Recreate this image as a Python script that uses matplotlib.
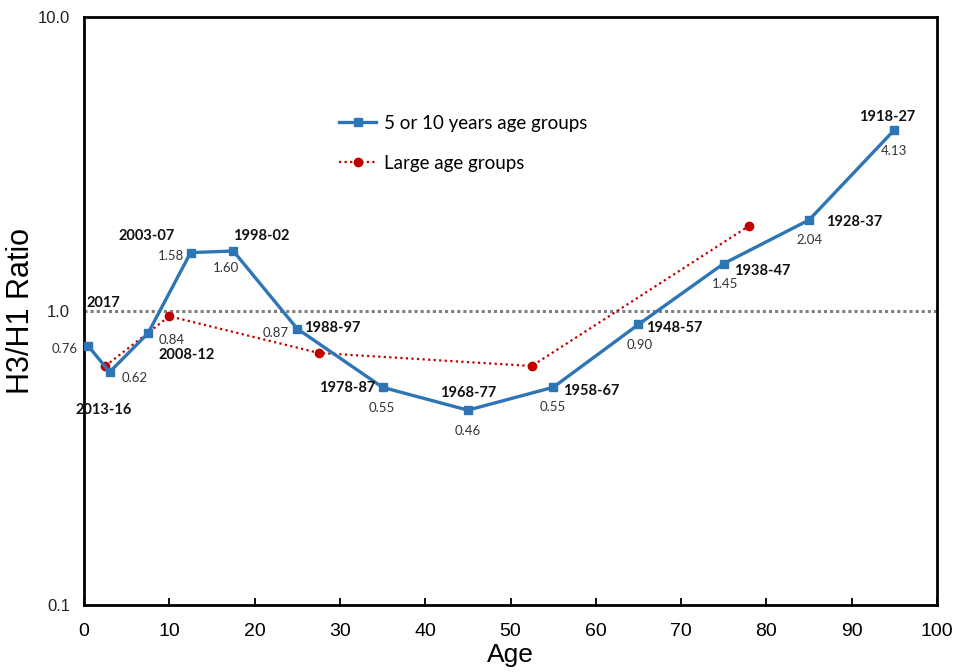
import numpy as np
import matplotlib
matplotlib.use('Agg')
import matplotlib.pyplot as plt

# 5 or 10 year age groups (birth cohorts)
ages = [0.5, 3, 7.5, 12.5, 17.5, 25, 35, 45, 55, 65, 75, 85, 95]
ratios = [0.76, 0.62, 0.84, 1.58, 1.60, 0.87, 0.55, 0.46, 0.55, 0.90, 1.45, 2.04, 4.13]
cohorts = ['2017', '2013-16', '2008-12', '2003-07', '1998-02', '1988-97', '1978-87',
           '1968-77', '1958-67', '1948-57', '1938-47', '1928-37', '1918-27']
ratio_txt = ['0.76', '0.62', '0.84', '1.58', '1.60', '0.87', '0.55',
             '0.46', '0.55', '0.90', '1.45', '2.04', '4.13']

# large age groups
large_ages = [2.5, 10, 27.5, 52.5, 78]
large_ratios = [0.65, 0.96, 0.72, 0.65, 1.95]

# label offsets in pixels (cohort label, value label)
cohort_off = [(15, 43), (-6, -38), (39, -22), (-44, 17), (28, 15), (35, 1), (-35, -1),
              (0, 17), (38, -4), (36, -4), (38, -7), (45, -2), (-7, 13)]
value_off = [(-24, -3), (25, -6), (24, -7), (-20, -3), (-7, -17), (-22, -4), (-1, -21),
             (0, -21), (0, -20), (1, -21), (1, -20), (0, -20), (0, -21)]

blue = '#2E75B6'
red = '#C00000'
lab_font = ['Lato', 'DejaVu Sans']
axis_font = ['Liberation Sans Narrow', 'Liberation Sans', 'DejaVu Sans']

fig = plt.figure(figsize=(9.57, 6.72), dpi=100)
ax = fig.add_axes([0.0878, 0.0997, 0.8913, 0.875])

ax.axhline(1.0, color='#7f7f7f', lw=2.2, ls=(0, (1, 1.0)), zorder=1)
ax.plot(ages, ratios, color=blue, lw=2.4, marker='s', ms=5.5,
        label='5 or 10 years age groups', zorder=3)
ax.plot(large_ages, large_ratios, color=red, lw=1.6, ls=(0, (1, 1.5)), marker='o', ms=6,
        label='Large age groups', zorder=2)

for i in range(len(ages)):
    ax.annotate(cohorts[i], (ages[i], ratios[i]), xytext=cohort_off[i],
                textcoords='offset pixels', ha='center', va='center',
                fontsize=10.5, fontweight='bold', family=lab_font, color='#111111')
    ax.annotate(ratio_txt[i], (ages[i], ratios[i]), xytext=value_off[i],
                textcoords='offset pixels', ha='center', va='center',
                fontsize=9.5, family=lab_font, color='#333333')

ax.set_yscale('log')
ax.set_xlim(0, 100)
ax.set_ylim(0.1, 10)
ax.set_xticks(np.arange(0, 101, 10))
ax.set_yticks([0.1, 1.0, 10.0])
ax.set_yticklabels(['0.1', '1.0', '10.0'], family=axis_font, fontsize=12, color='#222222')
ax.minorticks_off()
ax.tick_params(axis='y', length=0, pad=10)
ax.tick_params(axis='x', direction='in', length=5, width=1.3, pad=13, labelsize=14)
for t in ax.get_xticklabels():
    t.set_family(axis_font)
for s in ax.spines.values():
    s.set_linewidth(2)

ax.set_xlabel('Age', family=axis_font, fontsize=19, labelpad=2)
ax.set_ylabel('H3/H1 Ratio', family=axis_font, fontsize=22, labelpad=1)

leg = ax.legend(loc='upper left', bbox_to_anchor=(0.279, 0.862), frameon=False,
                prop={'family': lab_font, 'size': 13.5}, handlelength=2.0,
                labelspacing=1.2, handletextpad=0.4)

fig.savefig('out.png', dpi=100)
